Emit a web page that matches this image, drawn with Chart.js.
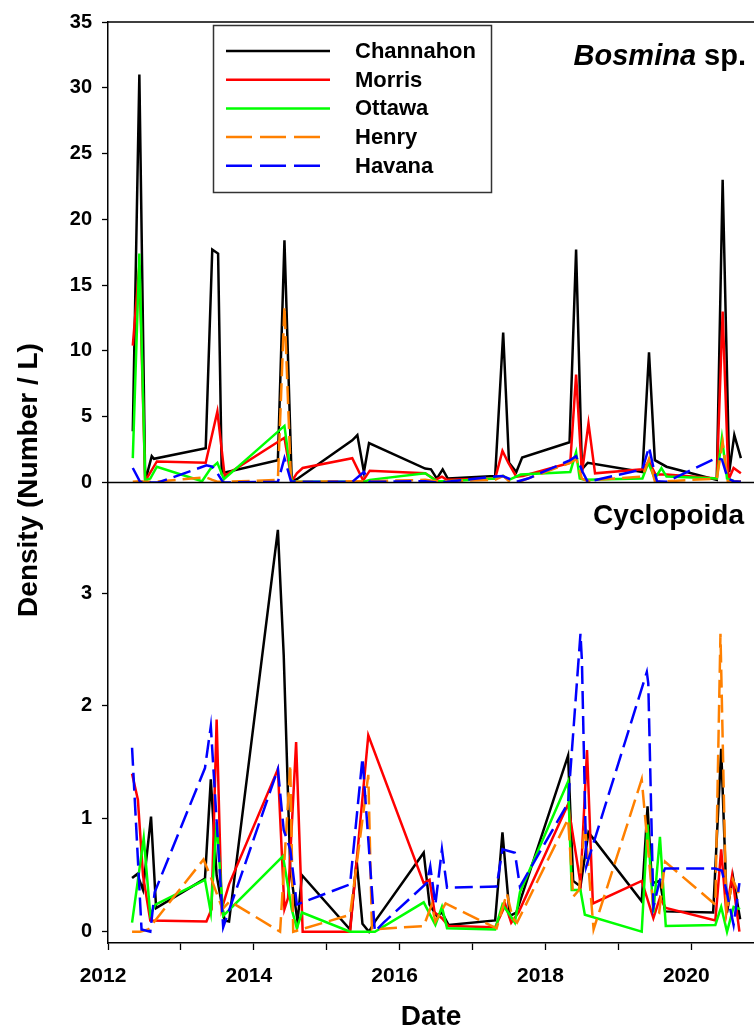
<!DOCTYPE html>
<html>
<head>
<meta charset="utf-8">
<script src="https://cdn.jsdelivr.net/npm/chart.js@4.4.1/dist/chart.umd.min.js"></script>
<style>
html,body{margin:0;padding:0;background:#ffffff;}
#wrap{position:relative;width:754px;height:1034px;}
</style>
</head>
<body>
<div id="wrap"><canvas id="c" width="754" height="1034"></canvas></div>
<script>
// ---------------- DATA ----------------
const siteNames = ['Channahon', 'Morris', 'Ottawa', 'Henry', 'Havana'];
const panelTitles = ['Bosmina', ' sp.', 'Cyclopoida'];
const yTitle = 'Density (Number / L)';
const xTitle = 'Date';
const yearTicks = [2012, 2013, 2014, 2015, 2016, 2017, 2018, 2019, 2020];
const bosTicks = [0, 5, 10, 15, 20, 25, 30, 35];
const cycTicks = [0, 1, 2, 3];

// Bosmina sp. (top panel), x = decimal year
const bosChannahonX = [2012.34, 2012.43, 2012.51, 2012.60, 2012.63, 2013.34, 2013.43, 2013.51, 2013.56, 2014.33, 2014.42, 2014.52, 2014.59, 2015.35, 2015.42, 2015.51, 2015.58, 2016.35, 2016.43, 2016.51, 2016.59, 2016.66, 2017.31, 2017.42, 2017.50, 2017.60, 2017.68, 2018.33, 2018.42, 2018.50, 2018.58, 2019.33, 2019.42, 2019.50, 2019.66, 2020.35, 2020.43, 2020.52, 2020.59, 2020.68];
const bosChannahonY = [3.9, 31.0, 0.1, 2.0, 1.8, 2.6, 17.7, 17.4, 0.7, 1.7, 18.4, 0.1, 0.25, 3.2, 3.6, 0.8, 3.0, 1.06, 1.0, 0.3, 1.0, 0.3, 0.5, 11.4, 1.5, 0.8, 1.9, 3.06, 17.7, 1.0, 1.5, 0.8, 9.9, 1.7, 1.2, 0.2, 23.0, 0.8, 3.6, 1.85];

const bosMorrisX = [2012.34, 2012.43, 2012.51, 2012.67, 2013.34, 2013.50, 2013.60, 2014.42, 2014.52, 2014.59, 2014.67, 2015.35, 2015.50, 2015.59, 2016.35, 2016.49, 2016.58, 2016.65, 2017.31, 2017.41, 2017.49, 2017.60, 2017.69, 2018.34, 2018.42, 2018.50, 2018.59, 2018.68, 2019.33, 2019.42, 2019.51, 2019.66, 2020.35, 2020.43, 2020.51, 2020.58, 2020.68];
const bosMorrisY = [10.4, 16.5, 0.1, 1.6, 1.5, 5.4, 0.5, 3.4, 0.1, 0.7, 1.1, 1.85, 0.15, 0.9, 0.7, 0.2, 0.45, 0.2, 0.3, 2.4, 1.5, 0.45, 0.5, 1.5, 8.2, 0.7, 4.5, 0.7, 1.0, 1.6, 0.6, 0.6, 0.3, 13.0, 0.2, 1.1, 0.7];

const bosOttawaX = [2012.34, 2012.43, 2012.51, 2012.58, 2012.67, 2013.29, 2013.40, 2013.50, 2013.59, 2014.42, 2014.52, 2014.59, 2015.35, 2015.50, 2015.59, 2016.35, 2016.51, 2016.66, 2017.31, 2017.42, 2017.50, 2017.66, 2018.34, 2018.42, 2018.47, 2018.54, 2019.33, 2019.41, 2019.50, 2019.59, 2019.66, 2020.35, 2020.42, 2020.49, 2020.59, 2020.68];
const bosOttawaY = [1.85, 17.4, 0.15, 0.3, 1.2, 0.1, 1.0, 1.5, 0.25, 4.3, 0.1, 0.05, 0.05, 0.05, 0.2, 0.7, 0.1, 0.1, 0.3, 0.5, 0.2, 0.6, 0.8, 2.3, 0.3, 0.2, 0.3, 1.5, 0.3, 1.1, 0.45, 0.3, 3.4, 0.3, 0.1, 0.1];

const bosHenryX = [2012.34, 2012.43, 2012.51, 2012.63, 2013.34, 2013.43, 2013.51, 2013.58, 2014.33, 2014.42, 2014.51, 2014.65, 2015.35, 2015.50, 2015.59, 2016.35, 2016.50, 2016.65, 2017.31, 2017.42, 2017.50, 2017.66, 2018.34, 2018.42, 2018.50, 2018.58, 2018.68, 2019.33, 2019.42, 2019.50, 2019.66, 2020.35, 2020.43, 2020.50, 2020.68];
const bosHenryY = [0.05, 0.1, 0.05, 0.05, 0.4, 0.2, 0.05, 0.05, 0.2, 13.4, 0.05, 0.05, 0.1, 0.1, 0.1, 0.2, 0.1, 0.1, 0.2, 0.5, 0.1, 0.1, 1.5, 1.8, 0.3, 0.1, 0.2, 0.45, 1.8, 0.1, 0.1, 0.3, 3.1, 0.1, 0.1];

const bosHavanaX = [2012.34, 2012.44, 2012.58, 2012.69, 2013.35, 2013.43, 2013.50, 2013.58, 2014.33, 2014.42, 2014.51, 2014.65, 2015.35, 2015.51, 2015.59, 2016.35, 2016.51, 2016.65, 2017.31, 2017.41, 2017.60, 2017.76, 2018.34, 2018.42, 2018.51, 2018.58, 2019.33, 2019.42, 2019.49, 2019.53, 2019.66, 2020.34, 2020.42, 2020.50, 2020.58, 2020.68];
const bosHavanaY = [1.1, 0.05, 0.0, 0.0, 1.3, 1.2, 0.7, 0.0, 0.05, 1.85, 0.1, 0.05, 0.05, 0.8, 0.05, 0.1, 0.0, 0.05, 0.45, 0.5, 0.05, 0.3, 1.7, 2.0, 0.8, 0.05, 1.0, 2.7, 0.9, 0.1, 0.05, 1.85, 1.75, 0.3, 0.1, 0.05];

// Cyclopoida (bottom panel)
const cycChannahonX = [2012.33, 2012.40, 2012.48, 2012.59, 2012.66, 2013.33, 2013.41, 2013.49, 2013.60, 2013.66, 2014.33, 2014.41, 2014.50, 2014.60, 2014.66, 2015.32, 2015.41, 2015.49, 2015.58, 2015.66, 2016.33, 2016.41, 2016.51, 2016.58, 2016.67, 2017.31, 2017.41, 2017.51, 2017.60, 2018.31, 2018.38, 2018.48, 2018.59, 2019.32, 2019.40, 2019.46, 2019.57, 2019.64, 2020.30, 2020.41, 2020.49, 2020.57, 2020.67];
const cycChannahonY = [0.475, 0.51, 0.37, 1.02, 0.21, 0.47, 1.35, 0.5, 0.1, 0.09, 3.56, 2.45, 0.55, 0.09, 0.5, 0.02, 0.63, 0.07, 0.0, 0.09, 0.7, 0.24, 0.14, 0.17, 0.06, 0.1, 0.88, 0.14, 0.17, 1.56, 0.45, 0.4, 0.88, 0.27, 1.11, 0.43, 0.45, 0.18, 0.17, 1.62, 0.17, 0.49, 0.11];

const cycMorrisX = [2012.33, 2012.41, 2012.48, 2012.58, 2013.35, 2013.42, 2013.49, 2013.56, 2013.66, 2014.33, 2014.42, 2014.47, 2014.58, 2014.67, 2015.32, 2015.57, 2016.33, 2016.41, 2016.48, 2016.58, 2016.67, 2017.31, 2017.45, 2017.53, 2017.63, 2018.31, 2018.48, 2018.57, 2018.65, 2019.32, 2019.48, 2019.57, 2019.65, 2020.33, 2020.41, 2020.48, 2020.56, 2020.66];
const cycMorrisY = [1.40, 1.17, 0.5, 0.1, 0.09, 0.2, 1.88, 0.2, 0.42, 1.44, 0.2, 0.3, 1.68, 0.0, 0.0, 1.74, 0.43, 0.46, 0.17, 0.12, 0.05, 0.04, 0.24, 0.08, 0.17, 1.13, 0.43, 1.61, 0.25, 0.45, 0.12, 0.3, 0.21, 0.1, 0.73, 0.17, 0.5, 0.0];

const cycOttawaX = [2012.33, 2012.49, 2012.58, 2012.65, 2013.33, 2013.41, 2013.49, 2013.58, 2014.40, 2014.52, 2014.59, 2014.66, 2015.32, 2015.66, 2016.33, 2016.49, 2016.58, 2016.65, 2017.31, 2017.41, 2017.51, 2017.58, 2017.65, 2018.31, 2018.36, 2018.48, 2018.54, 2019.32, 2019.40, 2019.48, 2019.57, 2019.65, 2020.33, 2020.41, 2020.49, 2020.58, 2020.67];
const cycOttawaY = [0.08, 0.83, 0.15, 0.24, 0.46, 0.17, 0.97, 0.14, 0.67, 0.2, 0.03, 0.17, 0.0, 0.0, 0.26, 0.06, 0.22, 0.03, 0.02, 0.24, 0.15, 0.08, 0.35, 1.33, 0.37, 0.37, 0.15, 0.0, 0.95, 0.17, 0.84, 0.05, 0.06, 0.22, 0.0, 0.22, 0.2];

const cycHenryX = [2012.33, 2012.44, 2012.55, 2013.31, 2013.40, 2013.57, 2013.67, 2014.36, 2014.50, 2014.54, 2015.32, 2015.57, 2015.62, 2016.33, 2016.44, 2016.49, 2016.63, 2017.33, 2017.47, 2017.55, 2017.61, 2018.31, 2018.38, 2018.46, 2018.54, 2018.66, 2019.32, 2019.48, 2019.56, 2019.64, 2020.33, 2020.40, 2020.48, 2020.57, 2020.65];
const cycHenryY = [0.0, 0.0, 0.02, 0.64, 0.5, 0.2, 0.27, 0.0, 1.48, 0.0, 0.15, 1.39, 0.02, 0.05, 0.24, 0.09, 0.25, 0.03, 0.34, 0.12, 0.08, 1.0, 0.31, 0.37, 0.96, 0.02, 1.35, 0.21, 0.17, 0.62, 0.24, 2.64, 0.17, 0.46, 0.34];

const cycHavanaX = [2012.33, 2012.46, 2012.58, 2012.64, 2013.33, 2013.41, 2013.58, 2013.65, 2014.33, 2014.41, 2014.50, 2014.59, 2015.32, 2015.49, 2015.66, 2015.78, 2016.37, 2016.42, 2016.49, 2016.58, 2016.65, 2017.33, 2017.41, 2017.58, 2017.65, 2018.31, 2018.48, 2018.50, 2018.56, 2019.39, 2019.41, 2019.48, 2019.57, 2019.64, 2020.33, 2020.42, 2020.49, 2020.58, 2020.66];
const cycHavanaY = [1.63, 0.02, 0.0, 0.35, 1.45, 1.82, 0.04, 0.17, 1.44, 0.9, 0.73, 0.24, 0.42, 1.54, 0.0, 0.08, 0.43, 0.58, 0.24, 0.73, 0.39, 0.4, 0.73, 0.7, 0.4, 1.14, 2.64, 2.4, 0.58, 2.30, 2.2, 0.22, 0.46, 0.56, 0.56, 0.54, 0.34, 0.06, 0.43];

// ---------------- STYLE ----------------
const FONT = '"Liberation Sans", Arial, Helvetica, sans-serif';
const siteColors = ['#000000', '#ff0000', '#00ff00', '#ff8000', '#0000ff'];
const siteDash = [[], [], [], [18, 7], [18, 7]];
const legendDash = [[], [], [], [26, 8], [26, 8]];
const siteOrder = [5, 4, 3, 2, 1];

const bosX = [bosChannahonX, bosMorrisX, bosOttawaX, bosHenryX, bosHavanaX];
const bosY = [bosChannahonY, bosMorrisY, bosOttawaY, bosHenryY, bosHavanaY];
const cycX = [cycChannahonX, cycMorrisX, cycOttawaX, cycHenryX, cycHavanaX];
const cycY = [cycChannahonY, cycMorrisY, cycOttawaY, cycHenryY, cycHavanaY];

function pts(xs, ys) { return xs.map((x, i) => ({ x: x, y: ys[i] })); }

const datasets = [];
siteNames.forEach((name, i) => {
  datasets.push({
    label: name + ' (Bosmina)', data: pts(bosX[i], bosY[i]), yAxisID: 'yT',
    borderColor: siteColors[i], borderDash: siteDash[i], borderWidth: 2.5,
    pointRadius: 0, tension: 0, order: siteOrder[i], fill: false
  });
  datasets.push({
    label: name + ' (Cyclopoida)', data: pts(cycX[i], cycY[i]), yAxisID: 'yB',
    borderColor: siteColors[i], borderDash: siteDash[i], borderWidth: 2.5,
    pointRadius: 0, tension: 0, order: siteOrder[i], fill: false
  });
});

const decor = {
  id: 'decor',
  afterDraw(chart) {
    const ctx = chart.ctx, ca = chart.chartArea;
    const yT = chart.scales.yT;
    ctx.save();
    // frame lines (top and panel divider)
    ctx.strokeStyle = '#000'; ctx.lineWidth = 1.5;
    ctx.beginPath();
    ctx.moveTo(ca.left, ca.top); ctx.lineTo(ca.right, ca.top);
    ctx.moveTo(ca.left, yT.bottom); ctx.lineTo(ca.right, yT.bottom);
    ctx.stroke();

    // panel titles
    ctx.fillStyle = '#000';
    ctx.textBaseline = 'alphabetic';
    ctx.textAlign = 'left';
    ctx.font = 'italic bold 29px ' + FONT;
    const w1 = ctx.measureText(panelTitles[0]).width;
    ctx.font = 'bold 29px ' + FONT;
    const w2 = ctx.measureText(panelTitles[1]).width;
    const xEnd = 746;
    ctx.font = 'italic bold 29px ' + FONT;
    ctx.fillText(panelTitles[0], xEnd - w1 - w2, 65);
    ctx.font = 'bold 29px ' + FONT;
    ctx.fillText(panelTitles[1], xEnd - w2, 65);
    ctx.font = 'bold 28px ' + FONT;
    ctx.textAlign = 'right';
    ctx.fillText(panelTitles[2], 744, 524);

    // y axis title
    ctx.save();
    ctx.translate(29, 480);
    ctx.rotate(-Math.PI / 2);
    ctx.textAlign = 'center'; ctx.textBaseline = 'middle';
    ctx.font = 'bold 28px ' + FONT;
    ctx.fillText(yTitle, 0, 0);
    ctx.restore();

    // legend
    const lx = 213, ly = 25, lw = 278, lh = 167;
    ctx.fillStyle = '#fff';
    ctx.fillRect(lx, ly, lw, lh);
    ctx.strokeStyle = '#333'; ctx.lineWidth = 1.5;
    ctx.strokeRect(lx + 0.5, ly + 0.5, lw, lh);
    ctx.font = 'bold 22px ' + FONT;
    ctx.textAlign = 'left'; ctx.textBaseline = 'middle';
    siteNames.forEach((name, i) => {
      const yy = 51 + i * 28.7;
      ctx.strokeStyle = siteColors[i];
      ctx.lineWidth = 2.5;
      ctx.setLineDash(legendDash[i]);
      ctx.beginPath();
      ctx.moveTo(226, yy);
      ctx.lineTo(legendDash[i].length ? 320 : 330, yy);
      ctx.stroke();
      ctx.setLineDash([]);
      ctx.fillStyle = '#000';
      ctx.fillText(name, 355, yy + 1);
    });
    ctx.restore();
  }
};

const yTickFont = { family: FONT, size: 20, weight: 'bold' };

new Chart(document.getElementById('c'), {
  type: 'line',
  data: { datasets: datasets },
  options: {
    responsive: false,
    animation: false,
    devicePixelRatio: 1,
    layout: { padding: { top: 20, left: 0, right: 0, bottom: 0 } },
    plugins: { legend: { display: false }, tooltip: { enabled: false } },
    scales: {
      x: {
        type: 'linear', position: 'bottom', min: 2012, max: 2020.86,
        afterBuildTicks: s => { s.ticks = yearTicks.map(v => ({ value: v })); },
        afterFit: s => { s.height = 91; },
        ticks: {
          callback: v => (v % 2 === 0 ? String(v) : ''),
          font: { family: FONT, size: 21, weight: 'bold' }, color: '#000',
          padding: 14, labelOffset: -5, maxRotation: 0, autoSkip: false
        },
        grid: { drawOnChartArea: false, drawTicks: true, tickLength: 7, color: '#000', tickWidth: 1.3 },
        border: { display: true, color: '#000', width: 1.5 },
        title: { display: true, text: xTitle, font: { family: FONT, size: 28, weight: 'bold' }, color: '#000', padding: 0 }
      },
      yB: {
        type: 'linear', position: 'left', stack: 'panels', stackWeight: 1,
        min: -0.1, max: 3.98,
        afterBuildTicks: s => { s.ticks = cycTicks.map(v => ({ value: v })); },
        afterFit: s => { s.width = 108; },
        ticks: { callback: v => String(v), font: yTickFont, color: '#000', padding: 10 },
        grid: { drawOnChartArea: false, drawTicks: true, tickLength: 6, color: '#000', tickWidth: 1.3 },
        border: { display: true, color: '#000', width: 1.5 }
      },
      yT: {
        type: 'linear', position: 'left', stack: 'panels', stackWeight: 1,
        min: 0, max: 35,
        afterBuildTicks: s => { s.ticks = bosTicks.map(v => ({ value: v })); },
        afterFit: s => { s.width = 108; },
        ticks: { callback: v => String(v), font: yTickFont, color: '#000', padding: 10 },
        grid: { drawOnChartArea: false, drawTicks: true, tickLength: 6, color: '#000', tickWidth: 1.3 },
        border: { display: true, color: '#000', width: 1.5 }
      }
    }
  },
  plugins: [decor]
});
</script>
</body>
</html>
